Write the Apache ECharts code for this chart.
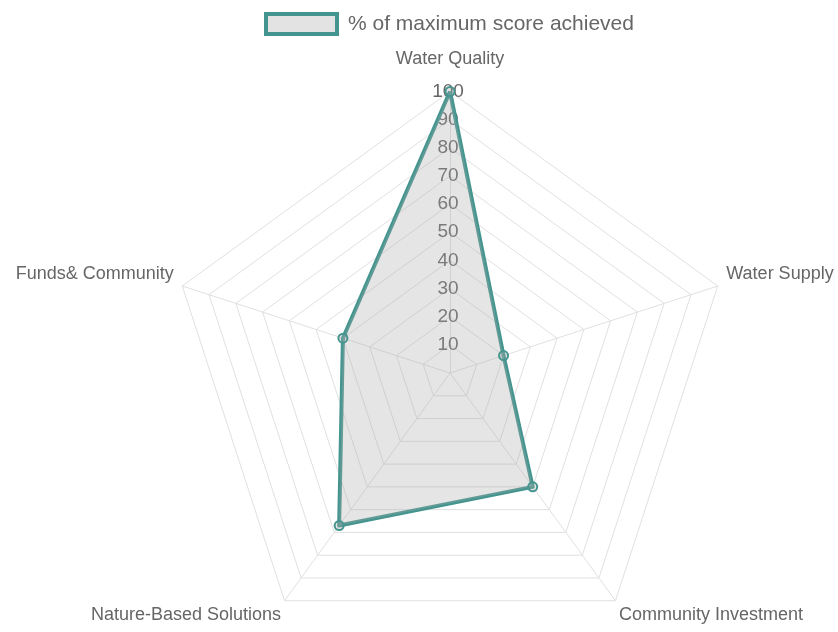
<!DOCTYPE html>
<html>
<head>
<meta charset="utf-8">
<script src="https://cdn.jsdelivr.net/npm/echarts@6/dist/echarts.min.js"></script>
<style>
html,body{margin:0;padding:0;background:#fff;}
#chart{width:838px;height:632px;}
</style>
</head>
<body>
<div id="chart"></div>
<script>
// Categories in ECharts' counter-clockwise order starting at top
var categories = ['Water Quality', 'Funds& Community', 'Nature-Based Solutions', 'Community Investment', 'Water Supply'];
var seriesName = '% of maximum score achieved';
var values = [100, 40, 67, 50, 20];
var maxValue = 100;

var FONT = 'Liberation Sans, Arial, Helvetica, sans-serif';
var TEAL = '#44958f';
var GRID = '#e0e0e0';

// per-indicator name placement (style only)
var nameLayout = [
  { nameGap: 23, nameTextStyle: {} },
  { nameGap: 9, nameTextStyle: { verticalAlign: 'bottom' } },
  { nameGap: 6, nameTextStyle: { verticalAlign: 'top' } },
  { nameGap: 6, nameTextStyle: { verticalAlign: 'top' } },
  { nameGap: 9, nameTextStyle: { verticalAlign: 'bottom' } }
];

var indicators = categories.map(function (c, i) {
  var o = { name: c, min: 0, max: maxValue, nameGap: nameLayout[i].nameGap, nameTextStyle: nameLayout[i].nameTextStyle };
  if (i === 0) {
    o.axisLabel = { show: true };
  }
  return o;
});

var chart = echarts.init(document.getElementById('chart'));
chart.setOption({
  animation: false,
  legend: {
    left: 264,
    top: 12,
    itemWidth: 71,
    itemHeight: 20,
    padding: 0,
    textStyle: { fontFamily: FONT, fontSize: 21, color: '#666', padding: [0, 0, 0, 6] },
    data: [{
      name: seriesName,
      icon: 'rect',
      itemStyle: { color: '#e3e3e3', borderColor: TEAL, borderWidth: 4 }
    }]
  },
  radar: {
    center: [450, 373],
    radius: 281.5,
    startAngle: 90,
    shape: 'polygon',
    splitNumber: 10,
    indicator: indicators,
    axisName: { color: '#666', fontFamily: FONT, fontSize: 18 },
    axisLine: { show: true, lineStyle: { color: GRID, width: 1 } },
    splitLine: { show: true, lineStyle: { color: GRID, width: 1 } },
    splitArea: { show: false },
    axisTick: { show: false },
    axisLabel: {
      show: false,
      color: '#666',
      fontFamily: FONT,
      fontSize: 19,
      margin: 2,
      align: 'center',
      verticalAlign: 'middle',
      showMaxLabel: true,
      formatter: function (v) { return v === 0 ? '' : String(v); }
    }
  },
  series: [{
    name: seriesName,
    type: 'radar',
    symbol: 'circle',
    symbolSize: 9,
    itemStyle: { color: 'rgba(170,170,170,0.3)', borderColor: TEAL, borderWidth: 2 },
    lineStyle: { color: TEAL, width: 4 },
    areaStyle: { color: 'rgba(170,170,170,0.3)', opacity: 1 },
    data: [{ value: values, name: seriesName }]
  }]
});
</script>
</body>
</html>
